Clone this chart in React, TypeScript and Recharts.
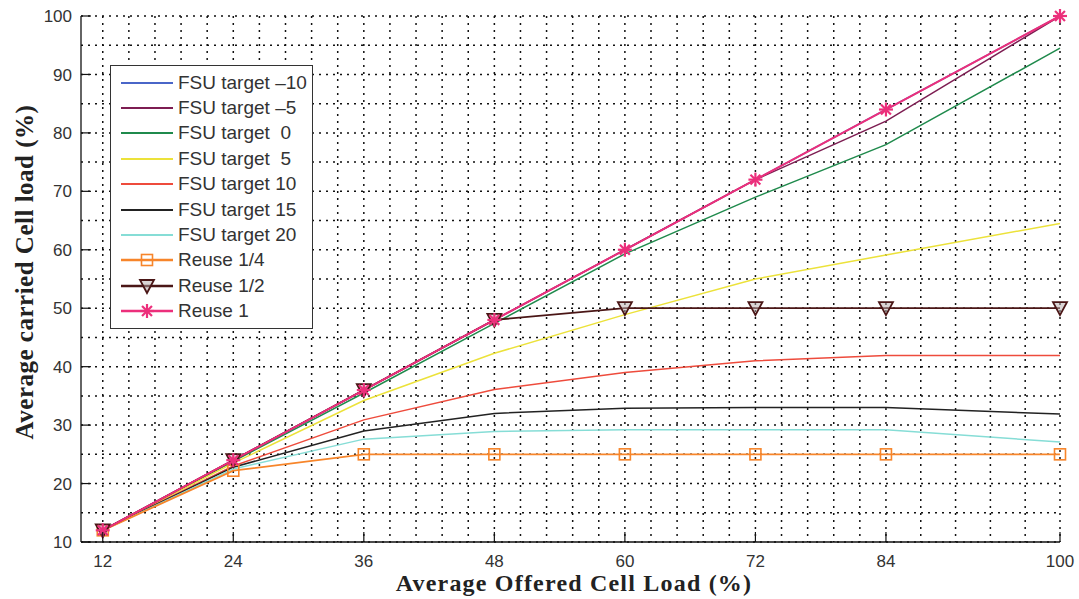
import React from 'react';
import { LineChart, Line, XAxis, YAxis, CartesianGrid, Legend, Label } from 'recharts';

// x = average offered cell load (%)
const offeredLoad = [12, 24, 36, 48, 60, 72, 84, 100];
const xTicks = [12, 24, 36, 48, 60, 72, 84, 100];
const yTicks = [10, 20, 30, 40, 50, 60, 70, 80, 90, 100];

// y = average carried cell load (%)
const fsuMinus10 = [12, 24, 36, 48, 60, 72, 84, 100];
const fsuMinus5 = [12, 24, 36, 48, 60, 72, 82, 100];
const fsu0 = [12, 23.8, 35.5, 47.4, 59.3, 69, 78, 94.5];
const fsu5 = [12, 23.5, 34.2, 42.3, 48.9, 55, 59.1, 64.5];
const fsu10 = [12, 23, 30.9, 36.1, 39, 41, 41.9, 41.9];
const fsu15 = [12, 22.8, 29, 32, 32.9, 33, 33, 31.9];
const fsu20 = [12, 22.5, 27.6, 28.9, 29.2, 29.2, 29.2, 27.1];
const reuseQuarter = [12, 22.2, 25, 25, 25, 25, 25, 25];
const reuseHalf = [12, 24, 36, 48, 50, 50, 50, 50];
const reuseOne = [12, 24, 36, 48, 60, 72, 84, 100];

const data = offeredLoad.map((x, i) => ({
  x,
  fsuMinus10: fsuMinus10[i],
  fsuMinus5: fsuMinus5[i],
  fsu0: fsu0[i],
  fsu5: fsu5[i],
  fsu10: fsu10[i],
  fsu15: fsu15[i],
  fsu20: fsu20[i],
  reuseQuarter: reuseQuarter[i],
  reuseHalf: reuseHalf[i],
  reuseOne: reuseOne[i],
}));

type Marker = 'none' | 'square' | 'triangle' | 'star';

const SERIES: { key: string; name: string; color: string; width: number; marker: Marker }[] = [
  { key: 'fsuMinus10', name: 'FSU target –10', color: '#4a66c8', width: 1.5, marker: 'none' },
  { key: 'fsuMinus5', name: 'FSU target –5', color: '#7d1d52', width: 1.5, marker: 'none' },
  { key: 'fsu0', name: 'FSU target  0', color: '#1f8a4c', width: 1.5, marker: 'none' },
  { key: 'fsu5', name: 'FSU target  5', color: '#ece23a', width: 1.5, marker: 'none' },
  { key: 'fsu10', name: 'FSU target 10', color: '#ee4b3c', width: 1.5, marker: 'none' },
  { key: 'fsu15', name: 'FSU target 15', color: '#222222', width: 1.5, marker: 'none' },
  { key: 'fsu20', name: 'FSU target 20', color: '#86ddd6', width: 1.5, marker: 'none' },
  { key: 'reuseQuarter', name: 'Reuse 1/4', color: '#f7852a', width: 1.8, marker: 'square' },
  { key: 'reuseHalf', name: 'Reuse 1/2', color: '#4a1616', width: 1.8, marker: 'triangle' },
  { key: 'reuseOne', name: 'Reuse 1', color: '#ec2f7b', width: 2, marker: 'star' },
];

// minor grid: 5 divisions between x ticks, 2 between y ticks
const xGrid: number[] = [];
xTicks.forEach((t, i) => {
  if (i === xTicks.length - 1) { xGrid.push(t); return; }
  const next = xTicks[i + 1];
  for (let k = 0; k < 5; k++) xGrid.push(t + ((next - t) * k) / 5);
});
const yGrid: number[] = [];
yTicks.forEach((t, i) => {
  yGrid.push(t);
  if (i < yTicks.length - 1) yGrid.push((t + yTicks[i + 1]) / 2);
});

const TICK_FONT = '"Liberation Sans", Arial, sans-serif';
const LABEL_FONT = '"Liberation Serif", "Times New Roman", serif';

const markerShape = (marker: Marker, cx: number, cy: number, color: string, key?: string) => {
  if (marker === 'square') {
    return <rect key={key} x={cx - 5.5} y={cy - 5.5} width={11} height={11} fill="none" stroke={color} strokeWidth={1.6} />;
  }
  if (marker === 'triangle') {
    return (
      <polygon key={key} points={`${cx - 7},${cy - 6} ${cx + 7},${cy - 6} ${cx},${cy + 7}`}
        fill="#b8acac" fillOpacity={0.5} stroke={color} strokeWidth={1.8} />
    );
  }
  if (marker === 'star') {
    const r = 7;
    const d = r * 0.707;
    return (
      <g key={key} stroke={color} strokeWidth={2.2}>
        <line x1={cx - r} y1={cy} x2={cx + r} y2={cy} />
        <line x1={cx} y1={cy - r} x2={cx} y2={cy + r} />
        <line x1={cx - d} y1={cy - d} x2={cx + d} y2={cy + d} />
        <line x1={cx - d} y1={cy + d} x2={cx + d} y2={cy - d} />
      </g>
    );
  }
  return null;
};

const makeDot = (marker: Marker, color: string) => (props: any) => {
  const { cx, cy, index } = props;
  if (cx == null || cy == null) return <g key={`d-${index}`} />;
  return markerShape(marker, cx, cy, color, `d-${index}`) as any;
};

const BottomTick = ({ x, y, payload }: any) => (
  <g>
    <line x1={x} x2={x} y1={y} y2={y - 10} stroke="#111" strokeWidth={1.2} />
    <text x={x} y={y + 25} textAnchor="middle" fontFamily={TICK_FONT} fontSize={17} fill="#333">
      {payload.value}
    </text>
  </g>
);

const TopTick = ({ x, y }: any) => (
  <line x1={x} x2={x} y1={y} y2={y + 10} stroke="#111" strokeWidth={1.2} />
);

const LeftTick = ({ x, y, payload }: any) => (
  <g>
    <line x1={x} x2={x + 10} y1={y} y2={y} stroke="#111" strokeWidth={1.2} />
    <text x={x - 9} y={y} dy="0.36em" textAnchor="end" fontFamily={TICK_FONT} fontSize={17} fill="#333">
      {payload.value}
    </text>
  </g>
);

const RightTick = ({ x, y }: any) => (
  <line x1={x} x2={x - 10} y1={y} y2={y} stroke="#111" strokeWidth={1.2} />
);

const LegendBox = () => (
  <div
    style={{
      border: '1.5px solid #333',
      background: '#fff',
      width: 203,
      padding: '4px 0 4px 0',
      boxSizing: 'border-box',
      fontFamily: TICK_FONT,
      fontSize: 19,
      color: '#333',
    }}
  >
    {SERIES.map((s) => (
      <div key={s.key} style={{ display: 'flex', alignItems: 'center', height: 25.4 }}>
        <svg width={64} height={20} style={{ display: 'block' }}>
          <line x1={10} x2={62} y1={10} y2={10} stroke={s.color} strokeWidth={s.width + 0.5} />
          {markerShape(s.marker, 36, 10, s.color)}
        </svg>
        <span style={{ marginLeft: 3, whiteSpace: 'pre', lineHeight: '20px' }}>{s.name}</span>
      </div>
    ))}
  </div>
);

const App: React.FC = () => {
  return (
    <div style={{ position: 'absolute', left: 0, top: 0, width: 1079, height: 599, background: '#fff' }}>
      <LineChart width={1079} height={599} data={data} margin={{ top: 16, right: 19, bottom: 27, left: 21 }}>
        <CartesianGrid
          horizontalValues={yGrid}
          verticalValues={xGrid}
          stroke="#111"
          strokeWidth={1.5}
          strokeDasharray="2 5"
        />
        <XAxis
          dataKey="x"
          type="number"
          domain={[10, 100]}
          ticks={xTicks}
          interval={0}
          height={30}
          axisLine={{ stroke: '#111', strokeWidth: 1.3 }}
          tickLine={false}
          tickSize={0}
          tickMargin={0}
          tick={<BottomTick />}
        >
          <Label
            content={() => (
              <text x={574} y={591} textAnchor="middle" fontFamily={LABEL_FONT} fontWeight="bold" fontSize={24} letterSpacing={1.2} fill="#222">
                Average Offered Cell Load (%)
              </text>
            )}
          />
        </XAxis>
        <XAxis
          xAxisId="top"
          orientation="top"
          dataKey="x"
          type="number"
          domain={[10, 100]}
          ticks={xTicks}
          interval={0}
          height={0}
          axisLine={{ stroke: '#111', strokeWidth: 1.3 }}
          tickLine={false}
          tickSize={0}
          tickMargin={0}
          tick={<TopTick />}
        />
        <YAxis
          type="number"
          domain={[10, 100]}
          ticks={yTicks}
          interval={0}
          width={60}
          axisLine={{ stroke: '#111', strokeWidth: 1.3 }}
          tickLine={false}
          tickSize={0}
          tickMargin={0}
          tick={<LeftTick />}
        >
          <Label
            content={() => (
              <text
                x={24}
                y={272}
                transform="rotate(-90 24 272)"
                dy="0.35em"
                textAnchor="middle"
                fontFamily={LABEL_FONT}
                fontWeight="bold"
                fontSize={25}
                letterSpacing={0.5}
                fill="#222"
              >
                Average carried Cell load (%)
              </text>
            )}
          />
        </YAxis>
        <YAxis
          yAxisId="right"
          orientation="right"
          type="number"
          domain={[10, 100]}
          ticks={yTicks}
          interval={0}
          width={0}
          axisLine={{ stroke: '#111', strokeWidth: 1.3 }}
          tickLine={false}
          tickSize={0}
          tickMargin={0}
          tick={<RightTick />}
        />
        {SERIES.map((s) => (
          <Line
            key={s.key}
            type="linear"
            dataKey={s.key}
            name={s.name}
            stroke={s.color}
            strokeWidth={s.width}
            dot={s.marker === 'none' ? false : makeDot(s.marker, s.color)}
            activeDot={false}
            isAnimationActive={false}
          />
        ))}
        <Legend
          layout="vertical"
          align="center"
          verticalAlign="middle"
          content={() => <LegendBox />}
          wrapperStyle={{ left: 110, top: 65, width: 203 }}
        />
      </LineChart>
    </div>
  );
};

export default App;
